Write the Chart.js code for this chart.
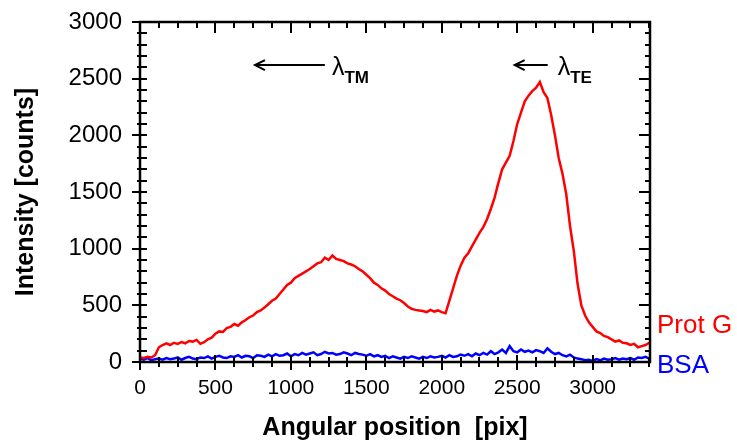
<!DOCTYPE html>
<html>
<head>
<meta charset="utf-8">
<script src="https://cdn.jsdelivr.net/npm/chart.js@4.4.1/dist/chart.umd.min.js"></script>
<style>
html, body { margin: 0; padding: 0; background: #fff; }
#wrap { width: 737px; height: 444px; }
</style>
</head>
<body>
<div id="wrap"><canvas id="myChart" width="737" height="444"></canvas></div>
<script>
// vi tri goc (pix) - doc tu hinh
var angularPos = [
    0, 25, 50, 75, 100, 125, 150, 175, 200, 225, 250, 275, 300, 325, 350, 375,
    400, 425, 450, 475, 500, 525, 550, 575, 600, 625, 650, 675, 700, 725, 750, 775,
    800, 825, 850, 875, 900, 925, 950, 975, 1000, 1025, 1050, 1075, 1100, 1125, 1150, 1175,
    1200, 1225, 1250, 1275, 1300, 1325, 1350, 1375, 1400, 1425, 1450, 1475, 1500, 1525, 1550, 1575,
    1600, 1625, 1650, 1675, 1700, 1725, 1750, 1775, 1800, 1825, 1850, 1875, 1900, 1925, 1950, 1975,
    2000, 2025, 2050, 2075, 2100, 2125, 2150, 2175, 2200, 2225, 2250, 2275, 2300, 2325, 2350, 2375,
    2400, 2425, 2450, 2475, 2500, 2525, 2550, 2575, 2600, 2625, 2650, 2675, 2700, 2725, 2750, 2775,
    2800, 2825, 2850, 2875, 2900, 2925, 2950, 2975, 3000, 3025, 3050, 3075, 3100, 3125, 3150, 3175,
    3200, 3225, 3250, 3275, 3300, 3325, 3350, 3375
];

// cuong do Prot G (counts)
var protG = [
    40, 35, 45, 40, 60, 130, 150, 165, 150, 170, 160, 175, 165, 185, 180, 195,
    160, 175, 200, 215, 250, 270, 265, 300, 310, 335, 320, 350, 370, 395, 410, 440,
    455, 480, 510, 540, 560, 600, 640, 680, 700, 740, 760, 780, 800, 820, 845, 870,
    880, 920, 900, 940, 910, 900, 890, 870, 860, 845, 820, 800, 770, 740, 700, 680,
    650, 630, 600, 580, 560, 545, 520, 490, 470, 460, 455, 450, 440, 460, 445, 455,
    440, 430, 540, 650, 760, 850, 920, 960, 1020, 1080, 1140, 1190, 1260, 1350, 1450, 1580,
    1700, 1760, 1820, 1950, 2100, 2200, 2300, 2350, 2390, 2420, 2470, 2380, 2330, 2180, 2000, 1800,
    1660, 1480, 1200, 980, 690, 500, 410, 350, 310, 270, 255, 230, 220, 200, 180, 190,
    170, 165, 150, 160, 130, 140, 150, 170
];

// cuong do BSA (counts)
var bsa = [
    30, 20, 35, 15, 25, 30, 20, 35, 25, 30, 40, 20, 35, 45, 30, 25,
    40, 35, 50, 30, 45, 55, 40, 35, 50, 45, 60, 40, 55, 50, 35, 60,
    55, 45, 65, 50, 70, 55, 60, 75, 50, 70, 60, 80, 65, 75, 85, 60,
    70, 90, 75, 80, 65, 70, 85, 75, 60, 80, 70, 65, 55, 70, 50, 60,
    45, 55, 35, 50, 40, 30, 45, 35, 50, 40, 30, 45, 35, 50, 40, 45,
    55, 40, 60, 45, 50, 65, 55, 70, 50, 75, 60, 80, 65, 95, 70, 85,
    110, 80, 140, 95, 85, 110, 90, 100, 85, 105, 95, 80, 120, 90, 70, 80,
    60, 50, 65, 40, 30, 25, 15, 20, 10, 25, 15, 30, 20, 25, 35, 20,
    30, 25, 35, 20, 40, 35, 45, 30
];

var xTickValues = [0, 500, 1000, 1500, 2000, 2500, 3000];
var yTickValues = [0, 500, 1000, 1500, 2000, 2500, 3000];

var FONT = "'Liberation Sans', Arial, Helvetica, sans-serif";
Chart.defaults.font.family = FONT;
Chart.defaults.color = '#000';

function toPoints(ys) {
    return angularPos.map(function (x, i) { return {x: x, y: ys[i]}; });
}

// ve khung, vach chia, chu thich lambda va nhan ben phai
var frameTicks = {
    id: 'frameTicks',
    afterDraw: function (chart) {
        var ctx = chart.ctx;
        var a = chart.chartArea;
        var sx = chart.scales.x, sy = chart.scales.y;
        ctx.save();
        ctx.strokeStyle = '#000';
        ctx.lineWidth = 2.5;
        ctx.strokeRect(a.left, a.top, a.right - a.left, a.bottom - a.top);

        ctx.lineWidth = 2;
        ctx.beginPath();
        for (var v = 0; v <= sx.max; v += 125) {
            var px = Math.round(sx.getPixelForValue(v));
            var major = v % 500 === 0;
            // duoi
            ctx.moveTo(px, a.bottom - (major ? 7 : 5));
            ctx.lineTo(px, a.bottom + (major ? 8 : 5));
            // tren
            ctx.moveTo(px, a.top);
            ctx.lineTo(px, a.top + (major ? 11 : 6));
        }
        for (var w = 0; w <= sy.max; w += 100) {
            var py = Math.round(sy.getPixelForValue(w));
            var maj = w % 500 === 0;
            ctx.moveTo(a.left - (maj ? 8 : 3), py);
            ctx.lineTo(a.left + 7, py);
            ctx.moveTo(a.right, py);
            ctx.lineTo(a.right - (maj ? 11 : 5), py);
        }
        ctx.stroke();

        // mui ten lambda
        function lambdaNote(x0, x1, xl, yv, sub) {
            var yp = sy.getPixelForValue(yv);
            var hx = sx.getPixelForValue(x0), tx = sx.getPixelForValue(x1);
            ctx.lineWidth = 2;
            ctx.beginPath();
            ctx.moveTo(tx, yp);
            ctx.lineTo(hx, yp);
            ctx.moveTo(hx + 10, yp - 5);
            ctx.lineTo(hx, yp);
            ctx.lineTo(hx + 10, yp + 5);
            ctx.stroke();
            var lx = sx.getPixelForValue(xl);
            ctx.fillStyle = '#000';
            ctx.textBaseline = 'alphabetic';
            ctx.textAlign = 'left';
            ctx.font = '25px ' + FONT;
            ctx.fillText('\u03bb', lx, yp + 10);
            var lw = ctx.measureText('\u03bb').width;
            ctx.font = 'bold 17px ' + FONT;
            ctx.fillText(sub, lx + lw, yp + 18);
        }
        lambdaNote(762, 1225, 1272, 2620, 'TM');
        lambdaNote(2483, 2702, 2768, 2620, 'TE');

        // nhan du lieu ben phai
        ctx.font = '26px ' + FONT;
        ctx.textAlign = 'left';
        ctx.textBaseline = 'alphabetic';
        var ds = chart.data.datasets;
        ctx.fillStyle = ds[0].borderColor;
        ctx.fillText(ds[0].label, a.right + 7, a.bottom - 29);
        ctx.fillStyle = ds[1].borderColor;
        ctx.fillText(ds[1].label, a.right + 7, a.bottom + 11);
        ctx.restore();
    }
};

var chart = new Chart('myChart', {
    type: 'line',
    data: {
        datasets: [{
            label: 'Prot G',
            borderColor: '#ff0000',
            data: toPoints(protG)
        }, {
            label: 'BSA',
            borderColor: '#0000ff',
            data: toPoints(bsa)
        }]
    },
    options: {
        responsive: false,
        animation: false,
        devicePixelRatio: 1,
        layout: { padding: { left: 0, right: 87, top: 22, bottom: 0 } },
        elements: {
            line: { borderWidth: 2.5, tension: 0 },
            point: { radius: 0 }
        },
        plugins: {
            legend: { display: false },
            tooltip: { enabled: false }
        },
        scales: {
            x: {
                type: 'linear',
                min: 0,
                max: 3380,
                afterFit: function (s) {
                    s.height = 82;
                    s.paddingLeft = 0;
                    s.paddingRight = 0;
                },
                afterBuildTicks: function (s) {
                    s.ticks = xTickValues.map(function (v) { return {value: v}; });
                },
                grid: { display: false, drawTicks: false },
                border: { display: false },
                ticks: {
                    font: { size: 21 }, color: '#000', padding: 14, maxRotation: 0, autoSkip: false,
                    callback: function (v) { return String(v); }
                },
                title: {
                    display: true,
                    text: 'Angular position  [pix]',
                    color: '#000',
                    font: { size: 25, weight: 'bold' },
                    padding: { top: 0, bottom: 1 }
                }
            },
            y: {
                min: 0,
                max: 3000,
                afterFit: function (s) {
                    s.width = 140;
                    s.paddingTop = 0;
                    s.paddingBottom = 0;
                },
                afterBuildTicks: function (s) {
                    s.ticks = yTickValues.map(function (v) { return {value: v}; });
                },
                grid: { display: false, drawTicks: false },
                border: { display: false },
                ticks: {
                    font: { size: 24 }, color: '#000', padding: 18, autoSkip: false,
                    callback: function (v) { return String(v); }
                },
                title: {
                    display: true,
                    text: 'Intensity [counts]',
                    color: '#000',
                    font: { size: 25, weight: 'bold' },
                    padding: { top: 11, bottom: 0 }
                }
            }
        }
    },
    plugins: [frameTicks]
});
</script>
</body>
</html>
